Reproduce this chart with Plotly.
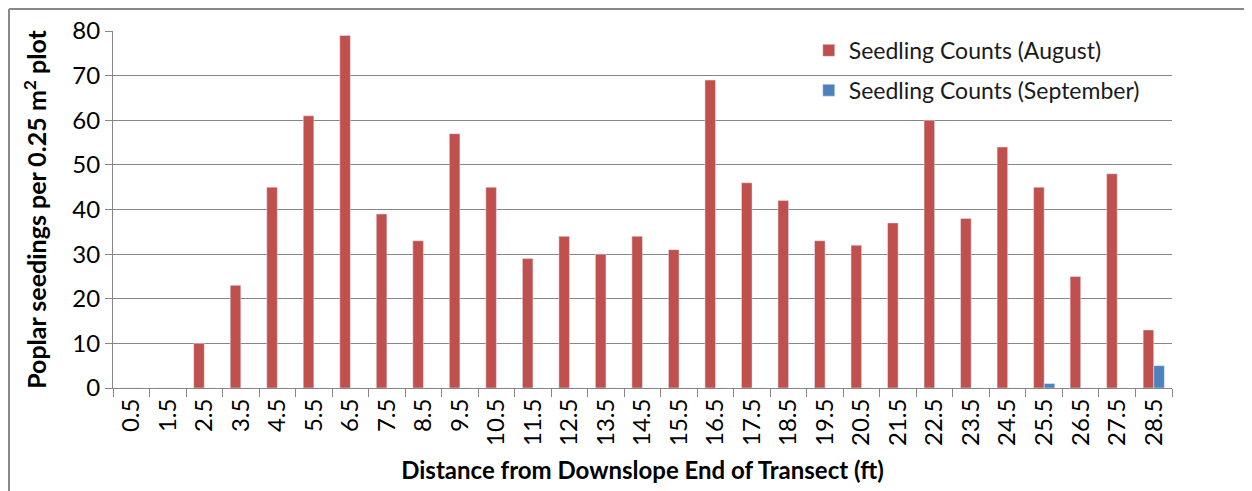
import plotly.graph_objects as go

distance = ["0.5", "1.5", "2.5", "3.5", "4.5", "5.5", "6.5", "7.5", "8.5", "9.5",
            "10.5", "11.5", "12.5", "13.5", "14.5", "15.5", "16.5", "17.5", "18.5", "19.5",
            "20.5", "21.5", "22.5", "23.5", "24.5", "25.5", "26.5", "27.5", "28.5"]
august = [0, 0, 10, 23, 45, 61, 79, 39, 33, 57,
          45, 29, 34, 30, 34, 31, 69, 46, 42, 33,
          32, 37, 60, 38, 54, 45, 25, 48, 13]
september = [0, 0, 0, 0, 0, 0, 0, 0, 0, 0,
             0, 0, 0, 0, 0, 0, 0, 0, 0, 0,
             0, 0, 0, 0, 0, 1, 0, 0, 5]

font = "Lato"

fig = go.Figure()
fig.add_trace(go.Bar(x=distance, y=august, name="Seedling Counts (August)",
                     marker_color="#C0504D", legendgroup="a"))
fig.add_trace(go.Bar(x=distance, y=september, name="Seedling Counts (September)",
                     marker_color="#4F81BD", legendgroup="b"))

fig.update_layout(
    width=1252, height=491,
    margin=dict(l=105, r=88, t=23, b=111),
    paper_bgcolor="white", plot_bgcolor="white",
    barmode="group", bargap=0.42, bargroupgap=0,
    font=dict(family=font, color="#000000"),
    legend=dict(x=0.657, y=1.006, xanchor="left", yanchor="top",
                font=dict(size=23, family=font, color="#1a1a1a"),
                bgcolor="rgba(0,0,0,0)",
                tracegroupgap=7, traceorder="grouped"),
    xaxis=dict(
        type="category", tickangle=-90, tickfont=dict(size=24),
        ticks="outside", tickson="boundaries", ticklen=8, tickcolor="#868686",
        showline=True, linecolor="#868686", linewidth=1, automargin=False,
        title=dict(text="<b>Distance from Downslope End of Transect (ft)</b>",
                   font=dict(size=24), standoff=17),
    ),
    yaxis=dict(
        range=[0, 80], dtick=10, tickfont=dict(size=24),
        ticks="outside", ticklen=7, tickcolor="#868686",
        showline=True, linecolor="#868686", linewidth=1, automargin=False,
        showgrid=True, gridcolor="#868686", gridwidth=1, zeroline=False,
        title=dict(text="<b>Poplar seedings per 0.25 m<sup>2</sup> plot</b>",
                   font=dict(size=25), standoff=18),
    ),
    shapes=[
        dict(type="line", xref="paper", yref="paper", x0=-0.0982, x1=1.1,
             y0=1.0616, y1=1.0616, line=dict(color="#888888", width=2)),
        dict(type="line", xref="paper", yref="paper", x0=-0.0982, x1=-0.0982,
             y0=1.0616, y1=-0.4, line=dict(color="#888888", width=2)),
    ],
)

fig.write_html("out.html")
